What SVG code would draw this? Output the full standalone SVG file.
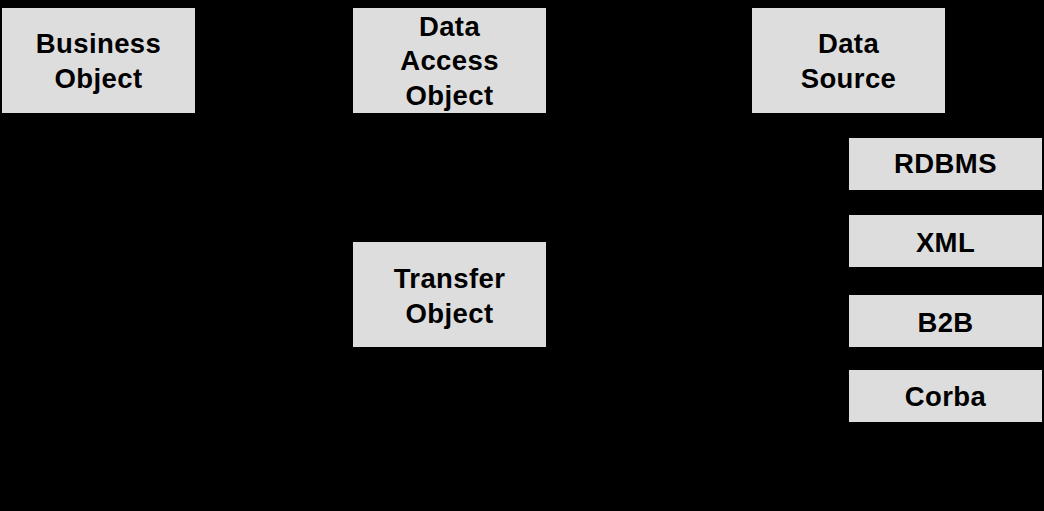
<svg xmlns="http://www.w3.org/2000/svg" width="1044" height="511" viewBox="0 0 1044 511">
<style>
.box{fill:#dddddd;stroke:none}
.lbl{font-family:"Liberation Sans",Arial,sans-serif;font-weight:bold;font-size:27.5px;letter-spacing:0.4px;fill:#000;text-anchor:middle}
</style>
<rect x="0" y="0" width="1044" height="511" fill="#000"/>
<g id="connectors"></g>
<g id="business-object">
<rect class="box" x="2" y="8" width="193" height="105"/>
<text class="lbl" x="98.5" y="53">Business</text>
<text class="lbl" x="98.5" y="88">Object</text>
</g>
<g id="data-access-object">
<rect class="box" x="353" y="8" width="193" height="105"/>
<text class="lbl" x="449.5" y="35.5">Data</text>
<text class="lbl" x="449.5" y="70">Access</text>
<text class="lbl" x="449.5" y="104.5">Object</text>
</g>
<g id="data-source">
<rect class="box" x="752" y="8" width="193" height="105"/>
<text class="lbl" x="848.5" y="53">Data</text>
<text class="lbl" x="848.5" y="88">Source</text>
</g>
<g id="transfer-object">
<rect class="box" x="353" y="242" width="193" height="105"/>
<text class="lbl" x="449.5" y="288">Transfer</text>
<text class="lbl" x="449.5" y="322.5">Object</text>
</g>
<g id="rdbms">
<rect class="box" x="849" y="138" width="193" height="52"/>
<text class="lbl" x="945.5" y="173">RDBMS</text>
</g>
<g id="xml">
<rect class="box" x="849" y="215" width="193" height="52"/>
<text class="lbl" x="945.5" y="251.5">XML</text>
</g>
<g id="b2b">
<rect class="box" x="849" y="295" width="193" height="52"/>
<text class="lbl" x="945.5" y="331.5">B2B</text>
</g>
<g id="corba">
<rect class="box" x="849" y="370" width="193" height="52"/>
<text class="lbl" x="945.5" y="406">Corba</text>
</g>
</svg>
